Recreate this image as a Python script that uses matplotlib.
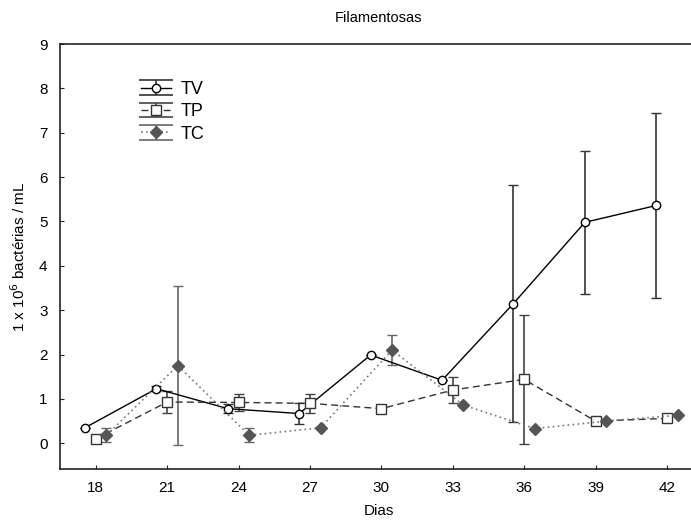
import matplotlib
matplotlib.use("Agg")
import matplotlib.pyplot as plt
from matplotlib.container import ErrorbarContainer
from matplotlib.legend_handler import HandlerErrorbar
import numpy as np

plt.rcParams['font.family'] = ['Liberation Sans', 'DejaVu Sans']

# Data
dias = np.array([18, 21, 24, 27, 30, 33, 36, 39, 42])

tv = [0.35, 1.23, 0.78, 0.67, 1.99, 1.42, 3.15, 4.98, 5.36]
tv_err = [0.0, 0.05, 0.1, 0.24, 0.0, 0.0, 2.67, 1.61, 2.09]

tp = [0.10, 0.93, 0.92, 0.90, 0.78, 1.20, 1.44, 0.50, 0.56]
tp_err = [0.0, 0.24, 0.19, 0.22, 0.0, 0.29, 1.46, 0.0, 0.0]

tc = [0.18, 1.75, 0.18, 0.35, 2.10, 0.86, 0.33, 0.50, 0.63]
tc_err = [0.16, 1.80, 0.16, 0.0, 0.33, 0.0, 0.0, 0.0, 0.0]

fig = plt.figure(figsize=(6.91, 5.25), dpi=100)
ax = fig.add_axes([60 / 691, 1 - 469 / 525, 1 - 60 / 691 + 0.01, (469 - 44) / 525])

styles = {
    "TV": dict(color="black", lw=1.0, ls="-", ecolor="#333333",
               marker="o", ms=6, mfc="white", mec="black"),
    "TP": dict(color="#333333", lw=1.0, ls=(0, (5, 3)), ecolor="#444444",
               marker="s", ms=7, mfc="white", mec="#333333"),
    "TC": dict(color="#777777", lw=1.2, ls=(0, (1, 2)), ecolor="#666666",
               marker="D", ms=6, mfc="#555555", mec="#555555"),
}

# -----------------------------
# Series (small x offsets like the original)
# -----------------------------
ax.errorbar(dias - 0.45, tv, yerr=tv_err, elinewidth=1.2, capsize=3.5,
            zorder=3, **styles["TV"])
ax.errorbar(dias, tp, yerr=tp_err, elinewidth=1.2, capsize=3.5,
            zorder=3, **styles["TP"])
ax.errorbar(dias + 0.45, tc, yerr=tc_err, elinewidth=1.2, capsize=3.5,
            zorder=3, **styles["TC"])

# legend proxies with wide caps
handles = []
for name in ["TV", "TP", "TC"]:
    h = ax.errorbar([np.nan], [np.nan], yerr=[1], elinewidth=1.2, capsize=12,
                    capthick=1.2, label=name, **styles[name])
    handles.append(h)

ax.set_xlim(16.5, 43.3)
ax.set_ylim(-0.58, 9)
ax.set_xticks(dias)
ax.set_yticks(range(0, 10))

ax.spines["right"].set_visible(False)
for s in ["left", "bottom", "top"]:
    ax.spines[s].set_color("#222222")
    ax.spines[s].set_linewidth(1.2)
ax.tick_params(direction="in", length=3, labelsize=11, color="#222222", pad=9)

ax.set_title("Filamentosas", fontsize=10.5, pad=16)
ax.set_xlabel("Dias", fontsize=11, labelpad=6)
ax.set_ylabel("1 x 10$^6$ bactérias / mL", fontsize=11, labelpad=8)

ax.legend(handles=handles, loc="upper left", bbox_to_anchor=(0.115, 0.93),
          frameon=False, fontsize=13, handlelength=1.7, labelspacing=0.3,
          handletextpad=0.5, borderaxespad=0,
          handler_map={ErrorbarContainer: HandlerErrorbar(yerr_size=0.4)})

fig.savefig("out.png", dpi=100)
